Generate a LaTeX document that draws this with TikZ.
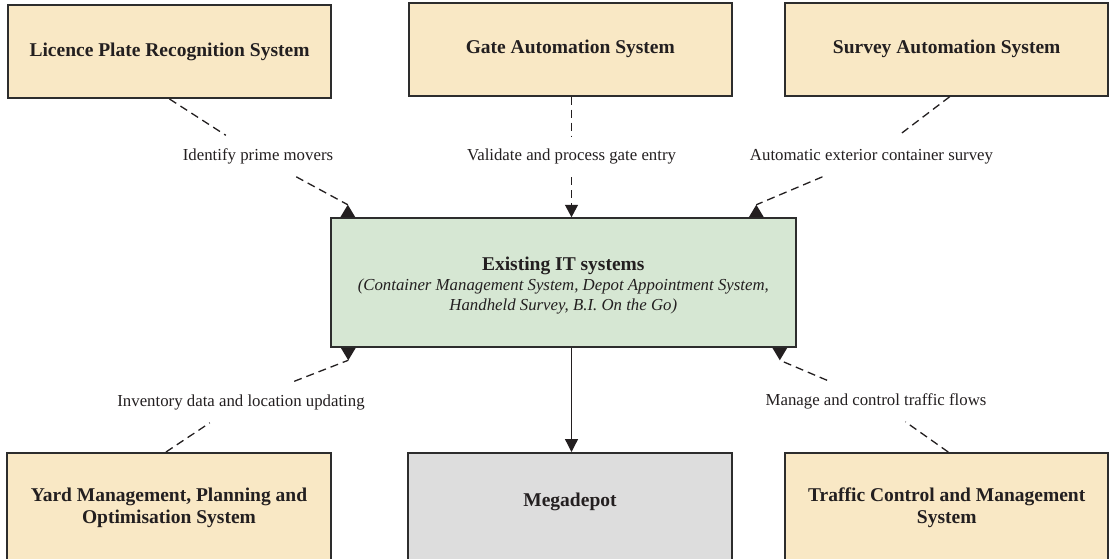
\documentclass[tikz,border=0pt]{standalone}
\usepackage{fontspec}
\setmainfont{Liberation Serif}
\usetikzlibrary{arrows.meta,calc}

\definecolor{boxtan}{RGB}{249,232,197}
\definecolor{boxgreen}{RGB}{214,231,211}
\definecolor{boxgray}{RGB}{221,221,221}
\definecolor{edge}{RGB}{45,45,45}
\definecolor{ink}{RGB}{35,31,32}

\tikzset{
  sysbox/.style={draw=edge, line width=2pt, inner sep=0pt, text=ink, align=center,
    font=\fontsize{19.5}{21.6}\selectfont\bfseries},
  tanbox/.style={sysbox, fill=boxtan, minimum width=323pt, minimum height=93pt},
  boxtext/.style={inner sep=0pt, text=ink, align=center,
    font=\fontsize{19.5}{21.6}\selectfont\bfseries},
  lbl/.style={inner xsep=4pt, inner ysep=13pt, text=ink,
    font=\fontsize{16.8}{20}\selectfont, text height=11.5pt, text depth=3.6pt},
  dashlink/.style={draw=ink, line width=1.3pt, dash pattern=on 8pt off 5pt},
  solidlink/.style={draw=ink, line width=1.3pt, -{Triangle[width=13pt,length=13pt]}},
  headup/.pic={\fill[ink] (0,0) -- (-7.5,12.5) -- (7.5,12.5) -- cycle;},
  headdown/.pic={\fill[ink] (0,0) -- (-7.5,-12.5) -- (7.5,-12.5) -- cycle;},
}

\begin{document}
\begin{tikzpicture}[x=1pt,y=-1pt]
\clip (0,0) rectangle (1110,558);
\fill[white] (0,0) rectangle (1110,558);

% upper row of subsystems
\node[tanbox] (lpr) at (169.5,51.5) {Licence Plate Recognition System};
\node[tanbox] (gate) at (570.3,49.2) {Gate Automation System};
\node[tanbox] (survey) at (946.7,49.2) {Survey Automation System};

% central block and its text
\node[sysbox, fill=boxgreen, minimum width=465pt, minimum height=128.5pt] (core) at (563.3,282.5) {};
\node[boxtext, font=\fontsize{16.8}{20}\selectfont\itshape] (coret) at (563.3,285.5)
  {{\fontsize{19.5}{20}\selectfont\upshape\bfseries Existing IT systems}\\
   (Container Management System, Depot Appointment System,\\
   Handheld Survey, B.I. On the Go)};

% lower row (boxes run past the bottom edge)
\node[tanbox, anchor=north, minimum width=324pt, minimum height=130pt] (yard) at (169,452) {};
\node[sysbox, fill=boxgray, anchor=north, minimum width=323.5pt, minimum height=130pt] (mega) at (570,452) {};
\node[tanbox, anchor=north, minimum height=130pt] (traffic) at (946.7,452) {};
\node[boxtext] (yardt) at (169,508) {Yard Management, Planning and\\Optimisation System};
\node[boxtext] (megat) at (570,502.2) {Megadepot};
\node[boxtext] (traffict) at (946.7,508) {Traffic Control and Management\\System};

% flow labels
\node[lbl, anchor=base] (l1) at (258,160) {Identify prime movers};
\node[lbl, anchor=base] (l2) at (571.5,160.5) {Validate and process gate entry};
\node[lbl, anchor=base] (l3) at (871.5,160) {Automatic exterior container survey};
\node[lbl, anchor=base] (l4) at (241,406) {Inventory data and location updating};
\node[lbl, anchor=base] (l5) at (876,405) {Manage and control traffic flows};

% arrowhead points on the central block
\coordinate (h1) at ($(core.north west)+(18,-12.5)$);
\coordinate (h3) at ($(core.north east)+(-40.5,-12.5)$);
\coordinate (h4) at ($(core.south west)+(18.5,12.5)$);
\coordinate (h5) at ($(core.south east)+(-17,12.5)$);

% connectors
\draw[dashlink] (lpr.south) -- (l1);
\draw[dashlink] (l1) -- (h1);
\pic at (h1) {headup};

\draw[dashlink] (gate.south -| l2) -- (l2);
\draw[dashlink, -{Triangle[width=13pt,length=12.5pt]}] (l2) -- (l2 |- core.north);

\draw[dashlink] ($(survey.south)+(3,0)$) -- (l3);
\draw[dashlink] (l3) -- (h3);
\pic at (h3) {headup};

\draw[dashlink] ($(yard.north)+(-3,0)$) -- (l4);
\draw[dashlink] (l4) -- (h4);
\pic at (h4) {headdown};

\draw[dashlink] ($(traffic.north)+(1.5,0)$) -- (l5);
\draw[dashlink] (l5) -- (h5);
\pic at (h5) {headdown};

\draw[solidlink] (core.south -| l2) -- (mega.north -| l2);
\end{tikzpicture}
\end{document}
